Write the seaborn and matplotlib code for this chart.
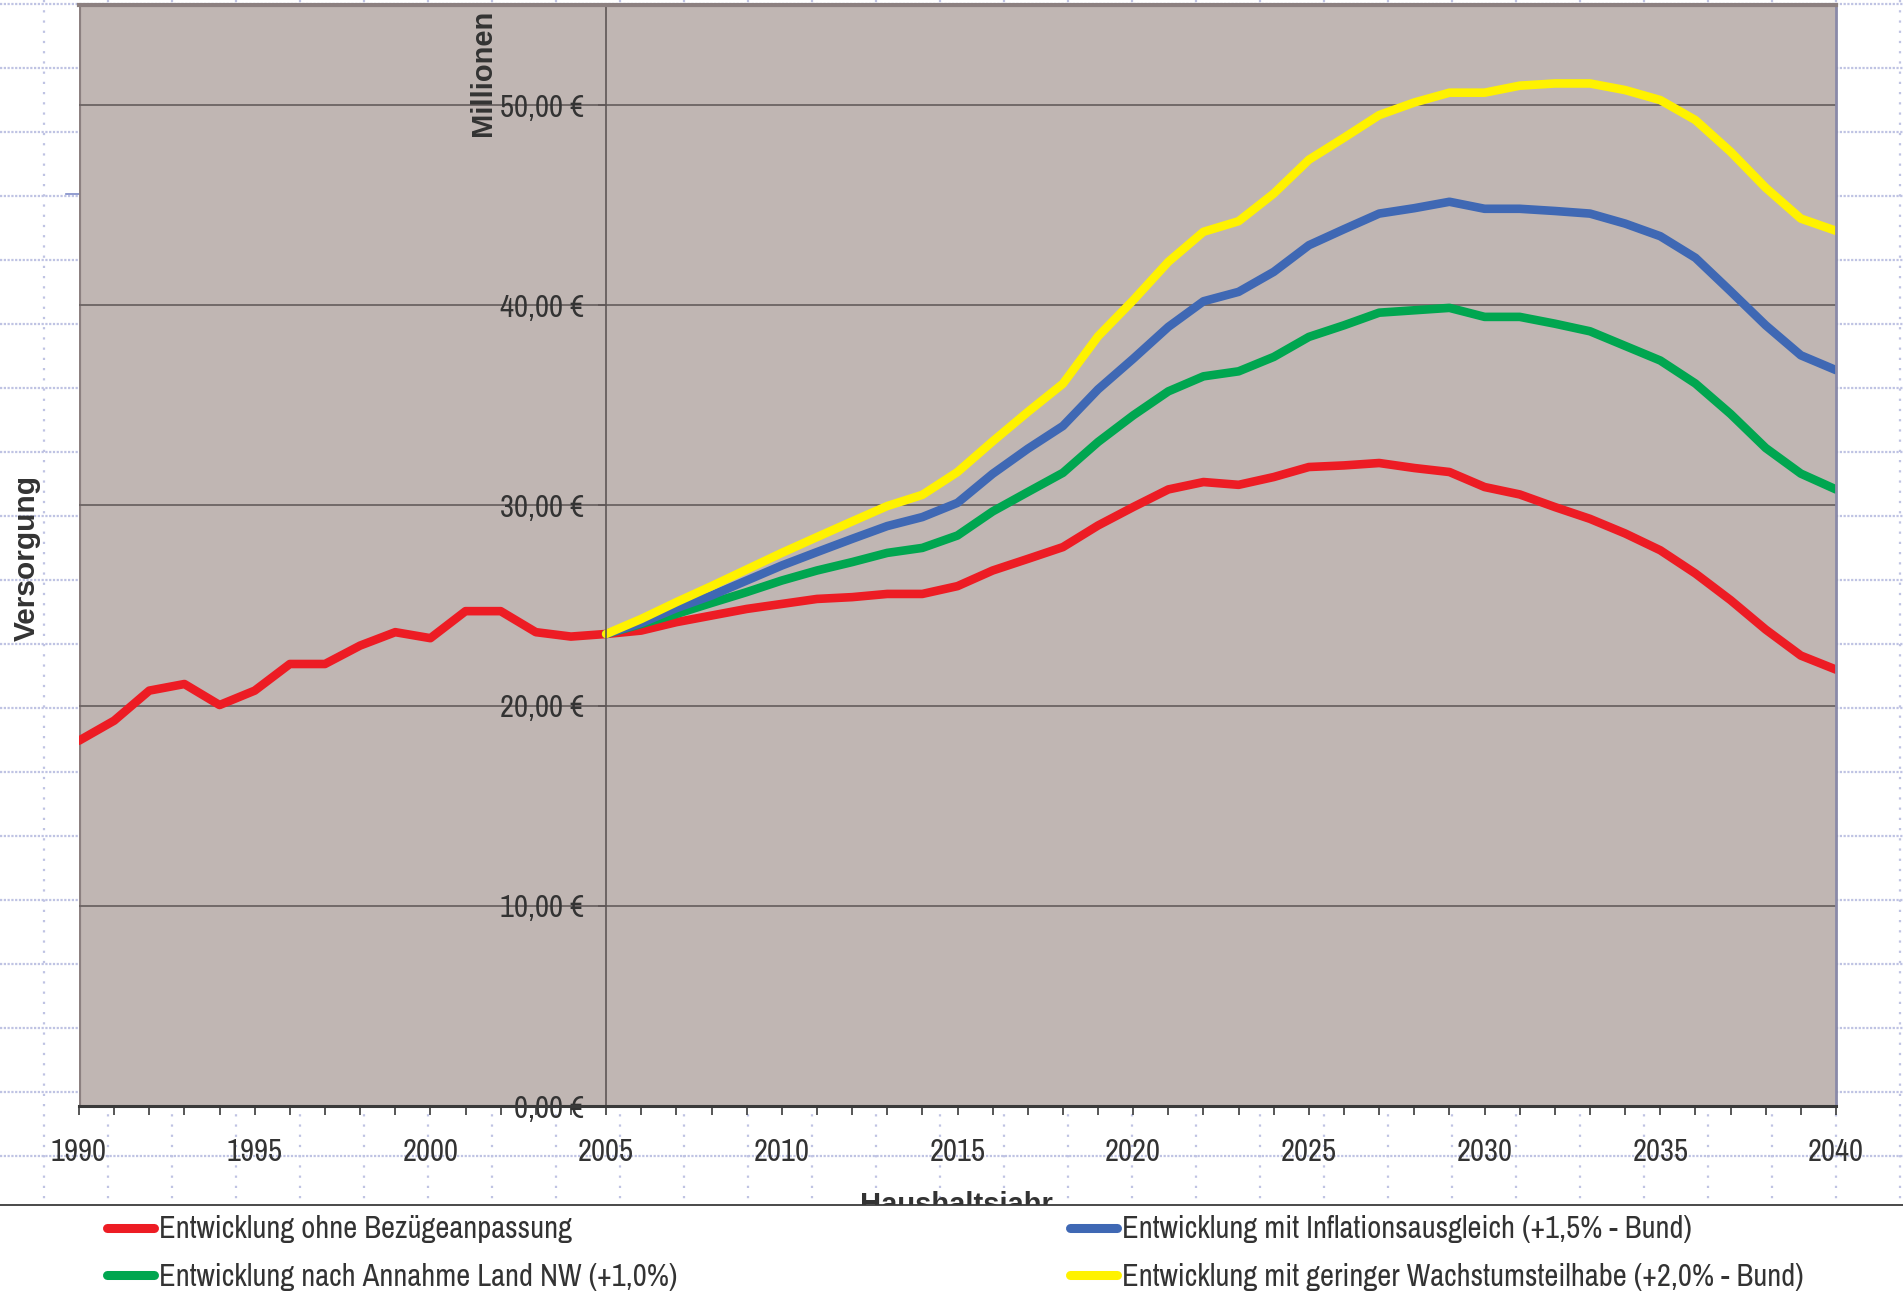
import numpy as np
import pandas as pd
import matplotlib
matplotlib.use("Agg")
import matplotlib.pyplot as plt
import seaborn as sns
from matplotlib import font_manager
from matplotlib.lines import Line2D
from matplotlib.patches import Rectangle

# ---- data (values in Mio. EUR) ----
years_red = list(range(1990, 2041))
years_proj = list(range(2005, 2041))

red = [18.25, 19.25, 20.75, 21.08, 20.03, 20.75, 22.08, 22.08, 23.0, 23.67,
       23.37, 24.72, 24.72, 23.67, 23.45,
       23.58, 23.75, 24.17, 24.5, 24.83, 25.08, 25.33, 25.42, 25.58, 25.58,
       25.97, 26.75, 27.33, 27.92, 29.0, 29.92, 30.8, 31.17, 31.03, 31.42,
       31.92, 32.0, 32.12, 31.87, 31.67, 30.92, 30.55, 29.92, 29.33, 28.6,
       27.76, 26.6, 25.27, 23.8, 22.5, 21.8]
green = [23.58, 24.08, 24.58, 25.13, 25.67, 26.25, 26.75, 27.17, 27.63, 27.88,
         28.5, 29.7, 30.67, 31.63, 33.17, 34.5, 35.7, 36.45, 36.7, 37.42,
         38.42, 39.0, 39.63, 39.75, 39.87, 39.42, 39.42, 39.08, 38.7, 37.97,
         37.24, 36.09, 34.57, 32.87, 31.59, 30.8]
blue = [23.58, 24.13, 24.87, 25.5, 26.25, 27.0, 27.67, 28.33, 28.97, 29.42,
        30.13, 31.58, 32.83, 33.97, 35.8, 37.33, 38.92, 40.2, 40.67, 41.67,
        43.0, 43.8, 44.58, 44.85, 45.17, 44.82, 44.82, 44.71, 44.58, 44.08,
        43.45, 42.37, 40.7, 39.0, 37.5, 36.76]
yellow = [23.58, 24.33, 25.17, 25.97, 26.8, 27.63, 28.42, 29.2, 29.97, 30.53,
          31.67, 33.2, 34.67, 36.08, 38.45, 40.25, 42.17, 43.67, 44.2, 45.58,
          47.27, 48.37, 49.5, 50.13, 50.62, 50.62, 50.97, 51.08, 51.08, 50.75,
          50.25, 49.25, 47.67, 45.87, 44.33, 43.72]

series_names = [
    "Entwicklung ohne Bezügeanpassung",
    "Entwicklung nach Annahme Land NW (+1,0%)",
    "Entwicklung mit Inflationsausgleich (+1,5% - Bund)",
    "Entwicklung mit geringer Wachstumsteilhabe (+2,0% - Bund)",
]
series_colors = ["#ed1c24", "#00a650", "#3f68b4", "#fff200"]
y_ticks = [0, 10, 20, 30, 40, 50]
x_ticks = list(range(1990, 2041, 5))

frames = [pd.DataFrame({"Jahr": years_red, "Wert": red, "Reihe": series_names[0]})]
for name, vals in zip(series_names[1:], [green, blue, yellow]):
    frames.append(pd.DataFrame({"Jahr": years_proj, "Wert": vals, "Reihe": name}))
df = pd.concat(frames, ignore_index=True)


# ---- fonts: the original uses a narrow sans, fall back to a smaller regular one ----
def pick_narrow():
    names = [f.name for f in font_manager.fontManager.ttflist]
    if "Liberation Sans Narrow" in names:
        return "Liberation Sans Narrow", True
    for n in names:
        if "narrow" in n.lower() or "condensed" in n.lower():
            return n, True
    return "Liberation Sans", False


available = {f.name for f in font_manager.fontManager.ttflist}
narrow, is_narrow = pick_narrow()
fs = 22 if is_narrow else 18.5
plt.rcParams["font.family"] = [narrow, "DejaVu Sans"]
bold_font = "Liberation Sans" if "Liberation Sans" in available else "DejaVu Sans"

W, H = 1903, 1298
text_col = "#333333"

fig = plt.figure(figsize=(W / 100, H / 100), dpi=100)

# spreadsheet cell grid behind the chart
bg = fig.add_axes([0, 0, 1, 1], zorder=-1)
bg.set_xlim(0, W)
bg.set_ylim(H, 0)
bg.axis("off")
for yy in np.arange(4, 1205, 64):
    bg.plot([0, W], [yy, yy], color="#bfc3e3", lw=1.6, dashes=(1.0, 0.7))
for xx in np.arange(43.5, W, 64):
    bg.plot([xx, xx], [0, 1205], color="#bfc3e3", lw=1.6, dashes=(1.0, 3.6))
bg.plot([66, 79], [194, 194], color="#7f8cc8", lw=1.2)

# main chart
ax = fig.add_axes([79 / W, 1 - 1106 / H, (1836 - 79) / W, (1106 - 5) / H])
ax.set_facecolor("#c0b6b3")
sns.lineplot(data=df, x="Jahr", y="Wert", hue="Reihe", hue_order=series_names,
             palette=series_colors, lw=6.2, ax=ax, legend=False, sort=False,
             solid_capstyle="round", solid_joinstyle="round")

ax.set_xlim(1990, 2040)
ax.set_ylim(0, 55)
ax.set_axisbelow(True)
ax.grid(axis="y", color="#6b6363", lw=1.3)
ax.grid(axis="x", visible=False)

ax.spines["left"].set_position(("data", 2005))
ax.spines["left"].set_color("#5e5656")
ax.spines["left"].set_linewidth(1.2)
ax.axvline(1990, color="#8c8080", lw=3, zorder=0.5)
ax.spines["top"].set_color("#8c8080")
ax.spines["top"].set_linewidth(3)
ax.spines["right"].set_color("#8a8aa8")
ax.spines["right"].set_linewidth(2)
ax.spines["bottom"].set_color("#3a3a3a")
ax.spines["bottom"].set_linewidth(2.2)

ax.set_xticks(x_ticks)
ax.set_xticklabels([str(x) for x in x_ticks])
ax.set_xticks(range(1990, 2041), minor=True)
ax.tick_params(axis="x", which="both", direction="out", length=6.5, width=1.2,
               color="#3a3a3a", labelsize=fs, labelcolor=text_col,
               pad=17 + (21 - fs) / 2)
ax.set_yticks(y_ticks)
ax.set_yticklabels([f"{v:.2f}".replace(".", ",") + " €" for v in y_ticks])
ax.tick_params(axis="y", direction="out", length=6, width=1.2, color="#5e5656",
               labelsize=fs, labelcolor=text_col, pad=10)
ax.set_xlabel("")
ax.set_ylabel("")

fig.text(483 / W, 1 - 73 / H, "Millionen", rotation=90, ha="center", va="center",
         fontsize=21, fontweight="bold", family=bold_font, color=text_col)
fig.text(27 / W, 1 - 558 / H, "Versorgung", rotation=90, ha="center", va="center",
         fontsize=21.5, fontweight="bold", family=bold_font, color=text_col)
fig.text(956 / W, 1 - 1191 / H, "Haushaltsjahr", ha="center", va="top",
         fontsize=21, fontweight="bold", family=bold_font, color=text_col)

# white legend band that cuts the x label
fig.add_artist(Rectangle((0, 0), 1, 1 - 1205 / H, transform=fig.transFigure,
                         facecolor="white", edgecolor="none", zorder=4))
fig.add_artist(Line2D([0, 1], [1 - 1205 / H] * 2, transform=fig.transFigure,
                      color="#3a3a3a", lw=1.3, zorder=4.5))

handles = [Line2D([], [], color=c, lw=6.5, solid_capstyle="round") for c in series_colors]
fs_px = fs * 100 / 72
for idx, x0 in [((0, 1), 107), ((2, 3), 1070)]:
    fig.legend([handles[i] for i in idx], [series_names[i] for i in idx],
               loc="center left", bbox_to_anchor=(x0 / W, 1 - 1253 / H),
               frameon=False, fontsize=fs, handlelength=47 / fs_px,
               handletextpad=5 / fs_px, labelspacing=(48.5 - 0.955 * fs_px) / fs_px,
               borderpad=0, borderaxespad=0, labelcolor=text_col)

fig.savefig("out.png", dpi=100)
